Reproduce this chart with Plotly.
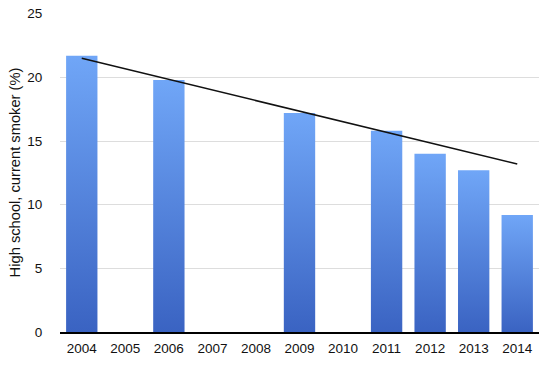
import plotly.graph_objects as go

years = ["2004", "2005", "2006", "2007", "2008", "2009", "2010", "2011", "2012", "2013", "2014"]
smokers = [21.7, None, 19.8, None, None, 17.2, None, 15.8, 14.0, 12.7, 9.2]
trend_years = ["2004", "2014"]
trend_values = [21.5, 13.2]
y_ticks = [0, 5, 10, 15, 20, 25]

BAR_HALF = 0.36
FONT = "Liberation Sans, Arial, Helvetica, sans-serif"

fig = go.Figure()
for i, v in enumerate(smokers):
    if v is None:
        continue
    xs = [i - BAR_HALF, i + BAR_HALF, i + BAR_HALF, i - BAR_HALF, i - BAR_HALF]
    ys = [0, 0, v, v, 0]
    fig.add_trace(go.Scatter(
        x=xs, y=ys, mode="lines", fill="toself",
        line=dict(width=0, color="rgba(0,0,0,0)"),
        fillgradient=dict(type="vertical",
                          colorscale=[[0, "#3a63c2"], [1, "#70a6f7"]]),
        showlegend=False, hoverinfo="skip",
    ))

fig.add_trace(go.Scatter(
    x=[years.index(t) for t in trend_years], y=trend_values, mode="lines",
    line=dict(color="#111111", width=1.5), showlegend=False, hoverinfo="skip",
))

fig.update_layout(
    width=550, height=371,
    margin=dict(l=60, r=11, t=13, b=39),
    paper_bgcolor="white", plot_bgcolor="white",
    font=dict(family=FONT, size=13.5, color="#111111"),
)
fig.update_xaxes(
    range=[-0.5, 10.5], tickmode="array", automargin=False,
    tickvals=list(range(len(years))), ticktext=years,
    showgrid=False, zeroline=False, showline=True, linecolor="#000000", linewidth=1.5,
    ticks="outside", ticklen=3, tickcolor="rgba(0,0,0,0)",
    tickfont=dict(size=13.5),
)
fig.update_yaxes(
    range=[0, 25.06], tickvals=y_ticks, automargin=False,
    showgrid=True, gridcolor="#dddddd", gridwidth=1, zeroline=False, showline=False,
    ticks="outside", ticklen=14, tickcolor="rgba(0,0,0,0)",
    tickfont=dict(size=13.5),
    title=dict(text="High school, current smoker (%)", font=dict(size=14.7), standoff=3),
)

fig.write_html("out.html", config={"displayModeBar": False},
               post_script="document.body.style.margin='0';")
